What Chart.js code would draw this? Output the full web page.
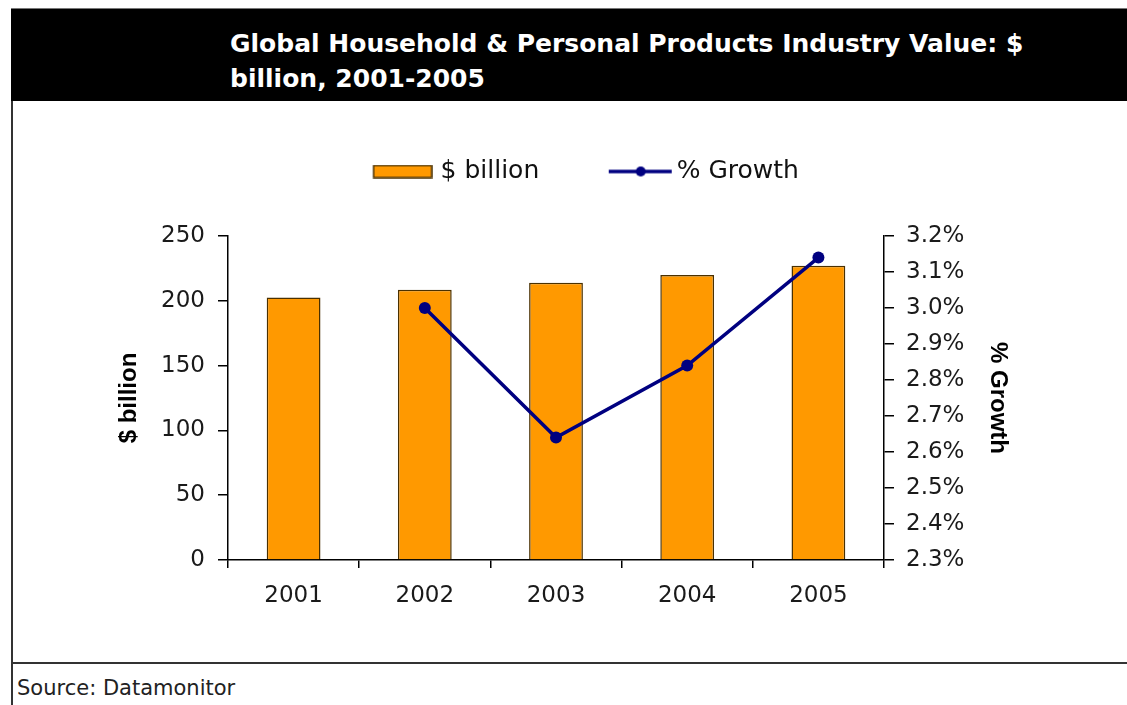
<!DOCTYPE html>
<html>
<head>
<meta charset="utf-8">
<script src="https://cdn.jsdelivr.net/npm/chart.js@4.4.0/dist/chart.umd.min.js"></script>
<style>
  body { margin: 0; width: 1127px; height: 705px; overflow: hidden; background: #fff; position: relative; }
  #frame { position: absolute; left: 11px; top: 8px; width: 1116px; height: 697px; border-left: 2px solid #333; box-sizing: border-box; }
  #header { position: absolute; left: 11px; top: 8px; width: 1116px; height: 93px; background: #000; border-top: 1px solid #777; box-sizing: border-box; }
  #title { position: absolute; left: 219px; top: 17px; color: #fff; font: bold 25px "DejaVu Sans"; line-height: 35px; }
  #bottomline { position: absolute; left: 11px; top: 662px; width: 1116px; height: 2px; background: #333; }
  #source { position: absolute; left: 17px; top: 676px; font: 21px "DejaVu Sans"; color: #222; }
  #chart { position: absolute; left: 0; top: 101px; }
</style>
</head>
<body>
<div id="frame"></div>
<div id="header"><div id="title">Global Household &amp; Personal Products Industry Value: $<br>billion, 2001-2005</div></div>
<div id="bottomline"></div>
<div id="source">Source: Datamonitor</div>
<canvas id="chart" width="1127" height="562"></canvas>
<script>
// values
const years = ['2001', '2002', '2003', '2004', '2005'];
const billion = [202.5, 208.5, 214, 220, 227];
const growth = [null, 3.0, 2.64, 2.84, 3.14];

const tickFont = { family: 'DejaVu Sans', size: 23 };
const titleFont = { family: 'Liberation Sans', size: 24, weight: 'bold' };

// legend markers as small canvases (content offset so it sits where the original has it)
function barKey() {
    const c = document.createElement('canvas');
    c.width = 124; c.height = 14;
    const ctx = c.getContext('2d');
    ctx.fillStyle = '#FF9900';
    ctx.fillRect(65, 1, 58, 12);
    ctx.strokeStyle = '#4a3000';
    ctx.lineWidth = 1.5;
    ctx.strokeRect(65, 1, 58, 12);
    return c;
}
function lineKey() {
    const c = document.createElement('canvas');
    c.width = 132; c.height = 14;
    const ctx = c.getContext('2d');
    ctx.strokeStyle = '#000080';
    ctx.lineWidth = 3.5;
    ctx.beginPath();
    ctx.moveTo(68, 7);
    ctx.lineTo(131, 7);
    ctx.stroke();
    ctx.fillStyle = '#000080';
    ctx.beginPath();
    ctx.arc(100, 7, 5, 0, Math.PI * 2);
    ctx.fill();
    return c;
}
const keys = [barKey(), lineKey()];

// extra room between legend and plot
const legendGap = {
    id: 'legendGap',
    beforeInit(chart) {
        const fit = chart.legend.fit;
        chart.legend.fit = function() {
            fit.bind(chart.legend)();
            this.height += 42;
        };
    }
};

const data = {
    labels: years,
    datasets: [
        {
            type: 'bar',
            label: '$ billion',
            data: billion,
            backgroundColor: '#FF9900',
            borderColor: '#4a3000',
            borderWidth: 1.5,
            barPercentage: 0.41,
            categoryPercentage: 1.0,
            yAxisID: 'y',
            order: 1
        },
        {
            type: 'line',
            label: '% Growth',
            data: growth,
            borderColor: '#000080',
            backgroundColor: '#000080',
            borderWidth: 3.5,
            pointRadius: 6,
            pointBackgroundColor: '#000080',
            pointBorderWidth: 0,
            tension: 0,
            yAxisID: 'y1',
            order: 0
        }
    ]
};

const config = {
    data: data,
    options: {
        responsive: false,
        animation: false,
        layout: { padding: { left: 80, right: 95, top: 48, bottom: 0 } },
        plugins: {
            tooltip: { enabled: false },
            legend: {
                position: 'top',
                labels: {
                    usePointStyle: true,
                    pointStyleWidth: 115,
                    boxHeight: 14,
                    padding: 10,
                    color: '#111',
                    font: { family: 'DejaVu Sans', size: 25 },
                    sort: (a, b) => a.datasetIndex - b.datasetIndex,
                    generateLabels: function(chart) {
                        const items = Chart.defaults.plugins.legend.labels.generateLabels(chart);
                        items.forEach(it => { it.pointStyle = keys[it.datasetIndex]; });
                        return items;
                    }
                }
            }
        },
        scales: {
            x: {
                grid: { offset: true, drawOnChartArea: false, tickLength: 8, color: '#000', lineWidth: 1.5 },
                border: { color: '#000', width: 1.5 },
                ticks: { font: tickFont, color: '#1a1a1a', padding: 14 },
                afterFit: s => { s.height = 103; }
            },
            y: {
                position: 'left',
                min: 0,
                max: 250,
                ticks: { stepSize: 50, font: tickFont, color: '#1a1a1a', padding: 13 },
                grid: { drawOnChartArea: false, tickLength: 10, color: '#000', lineWidth: 1.5 },
                border: { color: '#000', width: 1.5 },
                title: { display: true, text: '$ billion', font: titleFont, color: '#000', padding: { top: 35, bottom: 0 } },
                afterFit: s => { s.width = 148; }
            },
            y1: {
                position: 'right',
                min: 2.3,
                max: 3.2,
                ticks: {
                    stepSize: 0.1,
                    font: tickFont,
                    color: '#1a1a1a',
                    padding: 12,
                    callback: v => v.toFixed(1) + '%'
                },
                grid: { drawOnChartArea: false, tickLength: 10, color: '#000', lineWidth: 1.5 },
                border: { color: '#000', width: 1.5 },
                title: { display: true, text: '% Growth', font: titleFont, color: '#000', padding: { top: 20, bottom: 0 } },
                afterFit: s => { s.width = 148; }
            }
        }
    },
    plugins: [legendGap]
};

const chart = new Chart(document.getElementById('chart'), config);
</script>
</body>
</html>
